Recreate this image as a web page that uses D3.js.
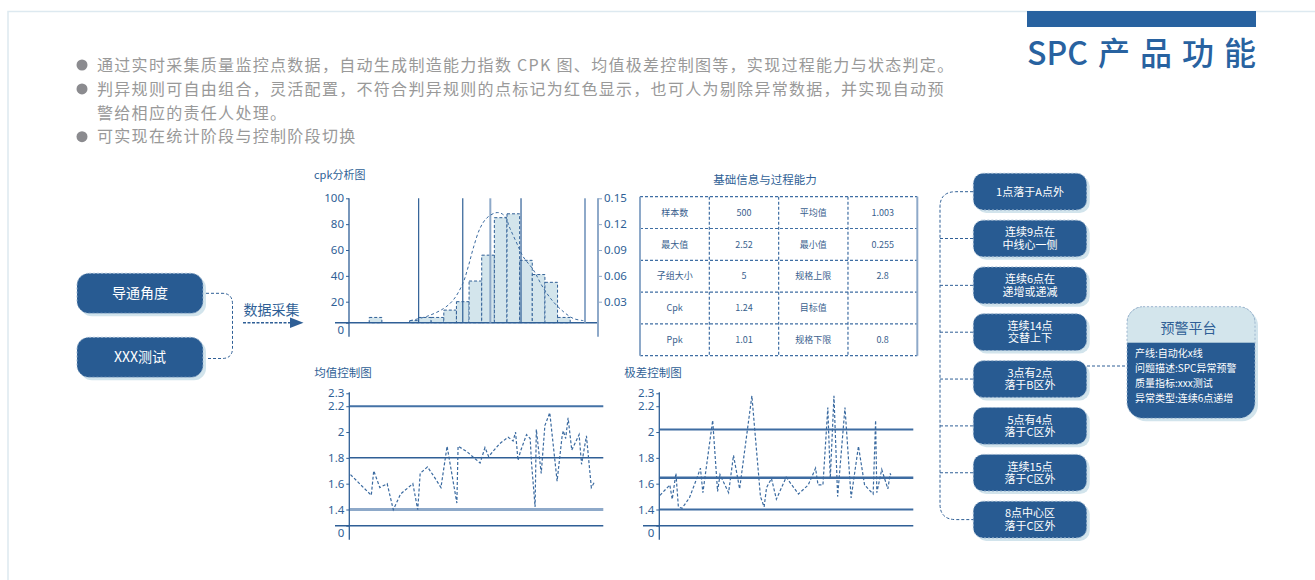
<!DOCTYPE html>
<html lang="zh">
<head>
	<meta charset="UTF-8">
	<title>SPC 产品功能</title>
	<script type="text/javascript" src="https://cdn.jsdelivr.net/npm/d3@7/dist/d3.min.js"></script>
	<style>
		body{margin:0;background:#fff;}
		svg text{font-family:"Noto Sans CJK SC","Noto Sans",sans-serif;}
	</style>
</head>
<body>
	<svg id="page" width="1315" height="580"></svg>
	<script type="text/javascript">
		// ---- data ----
		var bulletTexts = [
			['通过实时采集质量监控点数据，自动生成制造能力指数 CPK 图、均值极差控制图等，实现过程能力与状态判定。'],
			['判异规则可自由组合，灵活配置，不符合判异规则的点标记为红色显示，也可人为剔除异常数据，并实现自动预', '警给相应的责任人处理。'],
			['可实现在统计阶段与控制阶段切换']
		];
		var inputItems = ['导通角度', 'XXX测试'];

		// cpk histogram (measurement value bins, counts)
		var histX0 = [0.36, 0.68, 0.75, 0.85, 0.95, 1.05, 1.15, 1.25, 1.35, 1.45, 1.55, 1.65, 1.75, 1.85];
		var histX1 = [0.46, 0.75, 0.85, 0.95, 1.05, 1.15, 1.25, 1.35, 1.45, 1.55, 1.65, 1.75, 1.85, 1.95];
		var histCounts = [5, 2, 5, 5, 12, 20, 36, 56, 85, 88, 52, 41, 35, 5];
		var specLines = [0.751, 1.10, 1.318, 1.561, 2.067];
		var curveX = [0.683, 0.815, 0.946, 1.025, 1.10, 1.144, 1.183, 1.236, 1.289, 1.355, 1.395, 1.434, 1.474, 1.527, 1.579, 1.658, 1.737, 1.816, 1.895, 1.975, 2.054];
		var curveDensity = [0.003, 0.009, 0.020, 0.032, 0.051, 0.071, 0.092, 0.115, 0.127, 0.133, 0.133, 0.129, 0.115, 0.098, 0.082, 0.067, 0.046, 0.030, 0.016, 0.006, 0.003];
		var cpkLeftTicks = [0, 20, 40, 60, 80, 100];
		var cpkRightTicks = [0.03, 0.06, 0.09, 0.12, 0.15];

		var tableRows = [
			['样本数', '500', '平均值', '1.003'],
			['最大值', '2.52', '最小值', '0.255'],
			['子组大小', '5', '规格上限', '2.8'],
			['Cpk', '1.24', '目标值', ''],
			['Ppk', '1.01', '规格下限', '0.8']
		];

		var controlTicks = [0, 1.4, 1.6, 1.8, 2, 2.2, 2.3];
		var meanT = [0,17,19,24,30,35,41,51,55,57,63,68,74,79,87,88,95,106,110,113,122,129,133,135,137,139,144,147,148,151,152,156,159,163,169,173,174,176,178,181,187,189,193,197,200];
		var meanV = [1.67,1.51,1.70,1.57,1.60,1.38,1.52,1.60,1.38,1.68,1.73,1.66,1.57,1.89,1.45,1.89,1.85,1.76,1.88,1.81,1.91,1.96,1.93,2.00,1.78,1.85,1.98,1.95,1.77,1.42,2.02,1.68,2.05,2.15,1.62,1.96,2.01,1.95,2.11,1.86,1.98,1.75,1.97,1.57,1.62];
		var meanLimits = [2.2, 1.8, 1.4];
		var rangeT = [0,8,10,13,15,18,24,30,33,35,43,47,49,56,60,65,75,82,85,87,91,95,103,113,121,127,129,133,137,139,142,145,151,156,162,167,174,176,177,181,186,188,189];
		var rangeV = [1.51,1.59,1.48,1.68,1.42,1.41,1.49,1.64,1.72,1.53,2.09,1.54,1.67,1.53,1.82,1.56,2.28,1.50,1.42,1.57,1.64,1.48,1.65,1.52,1.59,1.72,1.59,1.59,2.19,1.64,2.28,1.50,2.19,1.49,1.89,1.59,1.52,2.09,1.53,1.71,1.56,1.68,1.64];
		var rangeLimits = [2.02, 1.646, 1.4];

		var rules = [
			['1点落于A点外'],
			['连续9点在', '中线心一侧'],
			['连续6点在', '递增或递减'],
			['连续14点', '交替上下'],
			['3点有2点', '落于B区外'],
			['5点有4点', '落于C区外'],
			['连续15点', '落于C区外'],
			['8点中心区', '落于C区外']
		];
		var platformTitle = '预警平台';
		var platformLines = ['产线:自动化x线', '问题描述:SPC异常预警', '质量指标:xxx测试', '异常类型:连续6点递增'];

		// ---- colours ----
		var dark = '#285b92', axisC = '#2f5f96', lightC = '#8ea9c9', pale = '#d3e5ec', boxEdge = '#9db6cf';

		var svg = d3.select('#page');

		// frame + title
		svg.append('path').attr('d', 'M8,580 V11.5 H1315')
			.attr('fill', 'none').attr('stroke', '#dde9f0').attr('stroke-width', 1.5);
		svg.append('rect').attr('x', 1027).attr('y', 11).attr('width', 229).attr('height', 16).attr('fill', '#2862a0');
		svg.append('text').attr('x', 1027).attr('y', 65).attr('fill', '#2862a0')
			.style('font-size', '32px').style('font-weight', 500).text('SPC');
		svg.append('text').attr('x', 1098).attr('y', 65).attr('fill', '#2862a0')
			.style('font-size', '32px').style('font-weight', 500).style('letter-spacing', '10px').text('产品功能');

		// bullets
		var lineY = 65, bullets = svg.append('g');
		bulletTexts.forEach(function(lines){
			bullets.append('circle').attr('cx', 82).attr('cy', lineY).attr('r', 5.5).attr('fill', '#8b8b8f');
			lines.forEach(function(t){
				bullets.append('text').attr('x', 97).attr('y', lineY).attr('dy', '0.36em')
					.attr('fill', '#999').style('font-size', '16px').style('letter-spacing', '1.3px').text(t);
				lineY += 23.9;
			});
		});

		// helper: rounded box with shadow
		function box(g, x, y, w, h, r){
			g.append('rect').attr('x', x + 3).attr('y', y + 3).attr('width', w).attr('height', h)
				.attr('rx', r).attr('fill', '#d2e4ec');
			g.append('rect').attr('x', x).attr('y', y).attr('width', w).attr('height', h)
				.attr('rx', r).attr('fill', dark).attr('stroke', boxEdge).attr('stroke-dasharray', '2,2');
		}

		// input boxes
		var inputs = svg.append('g');
		inputItems.forEach(function(t, i){
			var y = 273.3 + i * 64;
			box(inputs, 77, y, 126, 40, 12);
			inputs.append('text').attr('x', 140).attr('y', y + 20).attr('dy', '0.36em')
				.attr('text-anchor', 'middle').attr('fill', '#fff').style('font-size', '14px').text(t);
		});
		inputs.append('path').attr('d', 'M206,293.3 H222 Q232.5,293.3 232.5,304 V348 Q232.5,358.5 222,358.5 H206')
			.attr('fill', 'none').attr('stroke', axisC).attr('stroke-dasharray', '3,2');
		inputs.append('path').attr('d', 'M243,322.7 H292').attr('stroke', axisC).attr('stroke-width', 1.5).attr('stroke-dasharray', '3,1.5');
		inputs.append('path').attr('d', 'M290,317.5 L303.5,322.7 L290,327.9 Z').attr('fill', axisC);
		inputs.append('text').attr('x', 243.5).attr('y', 309.5).attr('dy', '0.36em')
			.attr('fill', axisC).style('font-size', '14px').text('数据采集');

		// ---- cpk chart ----
		var cpk = svg.append('g');
		var xC = d3.scaleLinear().domain([0.2, 2.17]).range([349, 598]);
		var yC = d3.scaleLinear().domain([0, 20, 100]).range([322.7, 301.7, 198.3]);
		var yR = d3.scaleLinear().domain([0, 0.03, 0.15]).range([322.7, 301.7, 198.3]);

		cpk.append('text').attr('x', 314).attr('y', 175).attr('dy', '0.36em')
			.attr('fill', axisC).style('font-size', '11px').text('cpk分析图');

		cpk.selectAll('rect.bar').data(histCounts).enter().append('rect').attr('class', 'bar')
			.attr('x', function(d, i){ return xC(histX0[i]); })
			.attr('width', function(d, i){ return xC(histX1[i]) - xC(histX0[i]); })
			.attr('y', function(d){ return yC(d); })
			.attr('height', function(d){ return yC(0) - yC(d); })
			.attr('fill', pale).attr('stroke', axisC).attr('stroke-width', 1).attr('stroke-dasharray', '3,2');

		cpk.append('line').attr('x1', 335).attr('x2', xC.range()[1]).attr('y1', yC(0)).attr('y2', yC(0))
			.attr('stroke', axisC).attr('stroke-width', 1.5);

		cpk.selectAll('line.spec').data(specLines).enter().append('line').attr('class', 'spec')
			.attr('x1', function(d){ return xC(d); }).attr('x2', function(d){ return xC(d); })
			.attr('y1', yC(100)).attr('y2', yC(0))
			.attr('stroke', function(d, i){ return (i == 2 || i == 4) ? lightC : axisC; })
			.attr('stroke-width', function(d, i){ return (i == 2 || i == 4) ? 2 : 1.2; });

		var curveLine = d3.line()
			.x(function(d, i){ return xC(curveX[i]); })
			.y(function(d){ return yR(d); })
			.curve(d3.curveCatmullRom);
		cpk.append('path').attr('d', curveLine(curveDensity))
			.attr('fill', 'none').attr('stroke', '#3a6aa0').attr('stroke-width', 1).attr('stroke-dasharray', '3,2.5');

		function styleAxis(g, size, col){
			g.select('.domain').remove();
			g.selectAll('line').attr('stroke', col);
			g.selectAll('text').attr('fill', axisC).style('font-size', size)
				.style('font-family', '"Noto Sans","Noto Sans CJK SC",sans-serif');
			g.selectAll('.tick').filter(function(d){ return d === 0; }).select('text').attr('dy', '0.95em');
		}

		var gl = cpk.append('g').attr('transform', 'translate(349,0)')
			.call(d3.axisLeft(yC).tickValues(cpkLeftTicks).tickSize(3).tickPadding(2).tickSizeOuter(0));
		styleAxis(gl, '11.5px', axisC);
		cpk.append('line').attr('x1', 349).attr('x2', 349).attr('y1', yC(100)).attr('y2', yC(0) + 14)
			.attr('stroke', axisC).attr('stroke-width', 1.3);

		var gr = cpk.append('g').attr('transform', 'translate(598,0)')
			.call(d3.axisRight(yR).tickValues(cpkRightTicks).tickSize(4).tickPadding(2).tickSizeOuter(0).tickFormat(d3.format('.2f')));
		styleAxis(gr, '11.5px', lightC);
		cpk.append('line').attr('x1', 598).attr('x2', 598).attr('y1', yR(0.15)).attr('y2', yR(0) + 14)
			.attr('stroke', lightC).attr('stroke-width', 2);

		// ---- table ----
		var tbl = svg.append('g');
		var colX = d3.scaleBand().domain(d3.range(4)).range([640, 917.3]);
		var rowY = d3.scaleBand().domain(d3.range(tableRows.length)).range([196.7, 355.7]);
		tbl.append('text').attr('x', 765).attr('y', 180).attr('dy', '0.36em').attr('text-anchor', 'middle')
			.attr('fill', axisC).style('font-size', '11.5px').text('基础信息与过程能力');
		d3.range(tableRows.length + 1).forEach(function(r){
			var y = 196.7 + r * rowY.step();
			tbl.append('line').attr('x1', 640).attr('x2', 917.3).attr('y1', y).attr('y2', y)
				.attr('stroke', '#3f6ea3').attr('stroke-width', 1.2).attr('stroke-dasharray', '3,2');
		});
		d3.range(5).forEach(function(c){
			var x = 640 + c * colX.step();
			var edge = (c == 0 || c == 4);
			tbl.append('line').attr('x1', x).attr('x2', x).attr('y1', 196.7).attr('y2', 355.7)
				.attr('stroke', edge ? lightC : '#3f6ea3').attr('stroke-width', edge ? 2 : 1.2)
				.attr('stroke-dasharray', edge ? null : '3,2');
		});
		tableRows.forEach(function(row, r){
			row.forEach(function(t, c){
				tbl.append('text').attr('x', colX(c) + colX.bandwidth() / 2).attr('y', rowY(r) + rowY.bandwidth() / 2)
					.attr('dy', '0.36em').attr('text-anchor', 'middle').attr('fill', '#3a5f8e')
					.style('font-size', '9px').text(t);
			});
		});

		// ---- control charts ----
		function controlChart(title, axisX, xRange, lineStart, ts, vs, limits, limitStyles){
			var g = svg.append('g');
			var x = d3.scaleLinear().domain([0, 200]).range(xRange);
			var y = d3.scaleLinear().domain([0, 1.4, 2.3]).range([525.7, 509.5, 393.3]);
			var right = axisX + 254;
			g.append('text').attr('x', axisX - 35).attr('y', 373).attr('dy', '0.36em')
				.attr('fill', axisC).style('font-size', '11.5px').text(title);
			limits.forEach(function(v, i){
				g.append('line').attr('x1', axisX).attr('x2', right).attr('y1', y(v)).attr('y2', y(v))
					.attr('stroke', limitStyles[i][0]).attr('stroke-width', limitStyles[i][1]);
			});
			g.append('line').attr('x1', lineStart).attr('x2', right).attr('y1', y(0)).attr('y2', y(0))
				.attr('stroke', axisC).attr('stroke-width', 1.5);
			var ax = g.append('g').attr('transform', 'translate(' + axisX + ',0)')
				.call(d3.axisLeft(y).tickValues(controlTicks).tickSize(3).tickPadding(2).tickSizeOuter(0)
					.tickFormat(function(d){ return String(d); }));
			styleAxis(ax, '11.5px', axisC);
			g.append('line').attr('x1', axisX).attr('x2', axisX).attr('y1', y(2.3) - 1).attr('y2', y(0) + 14)
				.attr('stroke', axisC).attr('stroke-width', 1.3);
			var ln = d3.line()
				.x(function(d, i){ return x(ts[i]); })
				.y(function(d){ return y(d); });
			g.append('path').attr('d', ln(vs)).attr('fill', 'none')
				.attr('stroke', '#3a6aa0').attr('stroke-width', 1.2).attr('stroke-dasharray', '3,2');
		}
		controlChart('均值控制图', 349.3, [350.5, 595], 335, meanT, meanV, meanLimits,
			[['#4472a6', 2], [axisC, 1.5], [lightC, 3]]);
		controlChart('极差控制图', 659.3, [660, 905], 643, rangeT, rangeV, rangeLimits,
			[['#3e6ca2', 2], ['#3e6ca2', 2.5], ['#3e6ca2', 2]]);

		// ---- rules ----
		var rg = svg.append('g');
		var ruleY = function(i){ return 173.3 + i * 46.85; };
		rg.append('path').attr('d', 'M973,191.7 H956 Q940,191.7 940,207 V504 Q940,519.6 956,519.6 H973')
			.attr('fill', 'none').attr('stroke', axisC).attr('stroke-dasharray', '3,2');
		rules.forEach(function(lines, i){
			var y = ruleY(i), cy = y + 18.35;
			if (i > 0 && i < rules.length - 1) {
				rg.append('line').attr('x1', 940).attr('x2', 973).attr('y1', cy).attr('y2', cy)
					.attr('stroke', axisC).attr('stroke-dasharray', '3,2');
			}
			box(rg, 973.3, y, 113.4, 36.7, 10);
			var txt = rg.append('text').attr('text-anchor', 'middle').attr('fill', '#fff').style('font-size', '11px');
			lines.forEach(function(t, k){
				txt.append('tspan').attr('x', 1030).attr('y', cy + (k - (lines.length - 1) / 2) * 12.4)
					.attr('dy', '0.36em').text(t);
			});
		});

		// ---- platform ----
		var pf = svg.append('g');
		pf.append('line').attr('x1', 1087).attr('x2', 1127).attr('y1', 366).attr('y2', 366)
			.attr('stroke', axisC).attr('stroke-dasharray', '3,2');
		svg.append('clipPath').attr('id', 'pfclip').append('rect')
			.attr('x', 1127).attr('y', 306.7).attr('width', 128).attr('height', 111.6).attr('rx', 16);
		pf.append('rect').attr('x', 1130).attr('y', 309.7).attr('width', 128).attr('height', 111.6).attr('rx', 16).attr('fill', '#d2e4ec');
		pf.append('rect').attr('x', 1127).attr('y', 306.7).attr('width', 128).attr('height', 111.6).attr('fill', dark).attr('clip-path', 'url(#pfclip)');
		pf.append('rect').attr('x', 1127).attr('y', 306.7).attr('width', 128).attr('height', 36).attr('fill', pale).attr('clip-path', 'url(#pfclip)');
		pf.append('rect').attr('x', 1127).attr('y', 306.7).attr('width', 128).attr('height', 111.6).attr('rx', 16)
			.attr('fill', 'none').attr('stroke', boxEdge).attr('stroke-dasharray', '2,2');
		pf.append('text').attr('x', 1188.5).attr('y', 328).attr('dy', '0.36em').attr('text-anchor', 'middle')
			.attr('fill', axisC).style('font-size', '14px').text(platformTitle);
		platformLines.forEach(function(t, i){
			pf.append('text').attr('x', 1135).attr('y', 353.5 + i * 14.8).attr('dy', '0.36em')
				.attr('fill', '#fff').style('font-size', '10px').text(t);
		});
	</script>
</body>
</html>
